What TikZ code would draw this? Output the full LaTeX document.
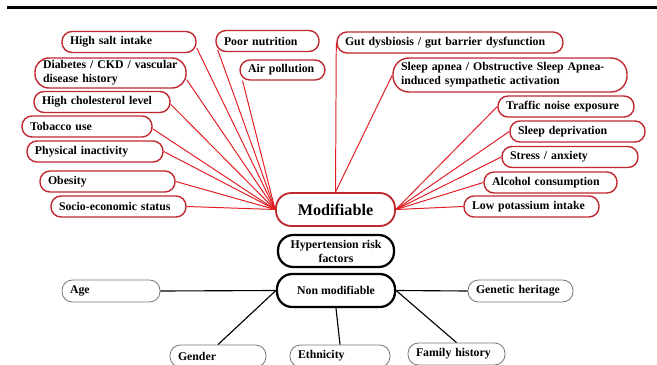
\documentclass[tikz,border=0pt]{standalone}
\usepackage{fontspec}
\setmainfont{Liberation Serif}
\usepackage{tikz}
\usetikzlibrary{positioning}
\usepackage{xcolor}
\definecolor{boxred}{RGB}{192,40,48}
\definecolor{linered}{RGB}{226,30,36}
\definecolor{boxgray}{RGB}{120,120,120}

\begin{document}
\begin{tikzpicture}[font=\bfseries\fontsize{8.4}{10}\selectfont,
  riskbox/.style={draw=boxred,line width=1pt,rounded corners=0.25cm,minimum height=0.525cm,
    inner xsep=0.2cm,inner ysep=0.04cm,align=left,text width=#1},
  tallbox/.style={riskbox=#1,rounded corners=0.35cm,minimum height=0.75cm},
  fixedbox/.style={draw=boxgray,line width=0.6pt,rounded corners=0.26cm,minimum height=0.55cm,
    inner xsep=0.2cm,inner ysep=0.04cm,align=left,text width=#1},
  hubbox/.style={draw,line width=1.6pt,rounded corners=0.38cm,align=center,minimum width=#1,minimum height=0.81cm},
  redline/.style={linered,line width=0.7pt},
  blackline/.style={black,line width=0.8pt}]
\useasboundingbox (0,0) rectangle (16.425,-9.125);
\draw[line width=2.4pt] (0.17,-0.19) -- (16.425,-0.19);

\node[riskbox=2.95cm] (salt) at (3.225,-1.05) {High salt intake};
\node[riskbox=2.175cm] (poor) at (6.6875,-1.025) {Poor nutrition};
\node[riskbox=1.725cm,minimum height=0.5cm] (air) at (7.0625,-1.75) {Air pollution};
\node[tallbox=3.375cm] (diab) at (2.7625,-1.825) {\mbox{Diabetes / CKD / vascular}\\disease history};
\node[riskbox=3.0cm] (chol) at (2.55,-2.55) {High cholesterol level};
\node[riskbox=2.85cm] (tob) at (2.175,-3.1625) {Tobacco use};
\node[riskbox=3.0cm] (phys) at (2.375,-3.7875) {Physical inactivity};
\node[riskbox=2.975cm] (obes) at (2.6875,-4.5375) {Obesity};
\node[riskbox=2.975cm] (socio) at (2.9625,-5.1625) {Socio-economic status};

\node[riskbox=5.25cm] (gut) at (11.25,-1.0625) {Gut dysbiosis / gut barrier dysfunction};
\node[tallbox=5.45cm,minimum height=0.85cm,rounded corners=0.4cm] (apnea) at (12.75,-1.875) {\mbox{Sleep apnea / Obstructive Sleep Apnea-}\\induced sympathetic activation};
\node[riskbox=3.0cm] (traffic) at (14.15,-2.6625) {Traffic noise exposure};
\node[riskbox=2.975cm] (sdep) at (14.4375,-3.2875) {Sleep deprivation};
\node[riskbox=3.0cm] (stress) at (14.25,-3.925) {Stress / anxiety};
\node[riskbox=2.925cm] (alcohol) at (13.7625,-4.5625) {Alcohol consumption};
\node[riskbox=2.975cm] (potass) at (13.2875,-5.1625) {Low potassium intake};

\node[hubbox=2.975cm,draw=boxred,line width=1.3pt,minimum height=0.825cm,font=\bfseries\fontsize{11.5}{13}\selectfont] (modif) at (8.3875,-5.2375) {Modifiable};
\node[hubbox=2.9cm,minimum height=0.8cm] (hyper) at (8.4,-6.275) {Hypertension risk\\factors};
\node[hubbox=2.95cm,minimum height=0.825cm] (nonmod) at (8.4,-7.2625) {Non modifiable};

\node[fixedbox=2.05cm] (age) at (2.775,-7.275) {Age};
\node[fixedbox=2.225cm] (genetic) at (13.0125,-7.275) {Genetic heritage};
\node[fixedbox=2.0cm] (gender) at (5.45,-8.9) {Gender};
\node[fixedbox=2.1cm] (ethn) at (8.5,-8.9) {Ethnicity};
\node[fixedbox=2.025cm] (family) at (11.4125,-8.85) {Family history};

\draw[redline] (salt.-5) -- (modif.west);
\draw[redline] ([xshift=0.06cm,yshift=0.06cm]poor.south west) -- (modif.west);
\draw[redline] (air.195) -- (modif.west);
\draw[redline] (diab.-5) -- (modif.west);
\draw[redline] (chol.-2) -- (modif.west);
\draw[redline] (tob.-2) -- (modif.west);
\draw[redline] (phys.east) -- (modif.west);
\draw[redline] (obes.east) -- (modif.west);
\draw[redline] (socio.east) -- (modif.west);
\draw[redline] (gut.west) -- (modif.north);
\draw[redline] (apnea.west) -- (modif.north);
\draw[redline] (traffic.west) -- (modif.east);
\draw[redline] (sdep.west) -- (modif.east);
\draw[redline] (stress.west) -- (modif.east);
\draw[redline] (alcohol.west) -- (modif.east);
\draw[redline] (potass.west) -- (modif.east);

\draw[blackline] (age.east) -- (nonmod.west);
\draw[blackline] (gender.north) -- (nonmod.west);
\draw[blackline] (ethn.north) -- (nonmod.south);
\draw[blackline] (family.north) -- (nonmod.east);
\draw[blackline] (nonmod.east) -- (genetic.west);
\end{tikzpicture}
\end{document}
